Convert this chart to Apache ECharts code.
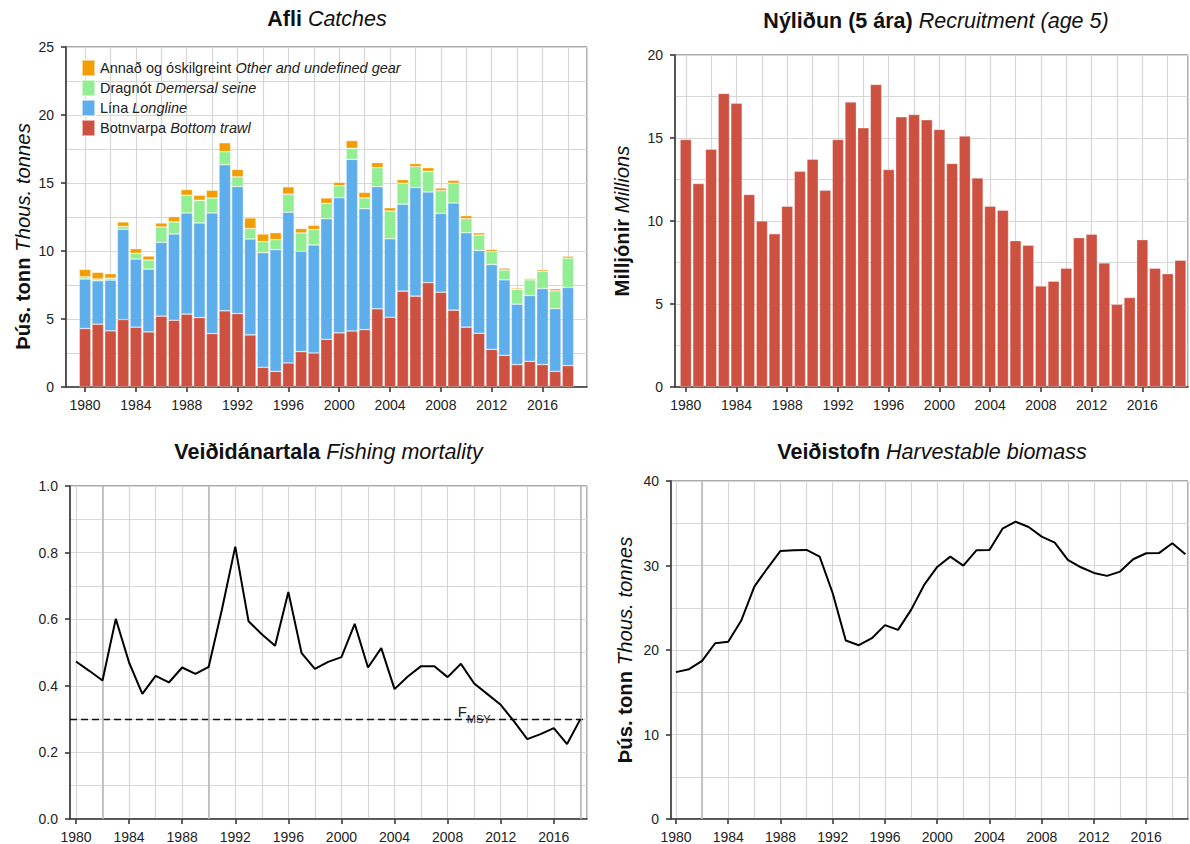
<!DOCTYPE html>
<html><head><meta charset="utf-8">
<script src="https://cdn.jsdelivr.net/npm/echarts@6/dist/echarts.min.js"></script>
<style>html,body{margin:0;padding:0;background:#fff}#c{width:1190px;height:844px}</style>
</head><body><div id="c"></div>
<script>
// ---------- DATA ----------
const catchYears = [1980,1981,1982,1983,1984,1985,1986,1987,1988,1989,1990,1991,1992,1993,1994,1995,1996,1997,1998,1999,2000,2001,2002,2003,2004,2005,2006,2007,2008,2009,2010,2011,2012,2013,2014,2015,2016,2017,2018];
const trawl    = [4.30,4.62,4.13,4.96,4.40,4.05,5.21,4.91,5.36,5.11,3.93,5.60,5.40,3.83,1.45,1.15,1.77,2.60,2.50,3.51,3.98,4.12,4.22,5.75,5.13,7.05,6.68,7.68,6.97,5.65,4.40,3.95,2.77,2.33,1.65,1.89,1.65,1.15,1.57];
const longline = [3.64,3.19,3.73,6.64,5.01,4.62,5.43,6.34,7.44,6.95,8.87,10.74,9.34,7.05,8.43,8.95,11.08,7.38,7.94,8.86,9.94,12.62,8.89,8.98,5.77,6.40,7.98,6.66,5.80,7.88,6.94,6.09,6.24,5.55,4.44,4.84,5.59,4.62,5.75];
const seine    = [0.16,0.13,0.14,0.20,0.42,0.67,1.13,0.89,1.30,1.67,1.10,0.96,0.71,0.77,0.81,0.73,1.33,1.35,1.13,1.13,0.88,0.81,0.79,1.40,2.04,1.53,1.54,1.52,1.67,1.45,1.03,1.13,0.96,0.72,1.08,1.15,1.26,1.30,2.16];
const otherGear= [0.55,0.49,0.33,0.34,0.34,0.29,0.29,0.39,0.42,0.37,0.57,0.66,0.55,0.78,0.56,0.52,0.54,0.32,0.32,0.40,0.25,0.57,0.41,0.37,0.24,0.27,0.23,0.27,0.19,0.22,0.23,0.17,0.15,0.14,0.10,0.10,0.12,0.15,0.14];

const recruitYears = [1980,1981,1982,1983,1984,1985,1986,1987,1988,1989,1990,1991,1992,1993,1994,1995,1996,1997,1998,1999,2000,2001,2002,2003,2004,2005,2006,2007,2008,2009,2010,2011,2012,2013,2014,2015,2016,2017,2018,2019];
const recruitment  = [14.91,12.26,14.33,17.69,17.09,11.60,10.01,9.23,10.89,13.00,13.73,11.86,14.91,17.17,15.62,18.23,13.10,16.28,16.42,16.10,15.52,13.47,15.12,12.60,10.89,10.65,8.82,8.54,6.09,6.37,7.16,9.00,9.21,7.48,4.98,5.39,8.88,7.16,6.83,7.64];

const fYears = [1980,1981,1982,1983,1984,1985,1986,1987,1988,1989,1990,1991,1992,1993,1994,1995,1996,1997,1998,1999,2000,2001,2002,2003,2004,2005,2006,2007,2008,2009,2010,2011,2012,2013,2014,2015,2016,2017,2018];
const fishingMortality = [0.473,0.445,0.416,0.601,0.470,0.376,0.430,0.410,0.455,0.436,0.457,0.630,0.818,0.594,0.555,0.520,0.682,0.498,0.451,0.472,0.486,0.586,0.455,0.513,0.390,0.428,0.459,0.459,0.426,0.466,0.407,0.375,0.343,0.293,0.240,0.255,0.273,0.225,0.300];
const fmsy = 0.3;
const fmsyLabelYear = 2010;

const biomassYears = [1980,1981,1982,1983,1984,1985,1986,1987,1988,1989,1990,1991,1992,1993,1994,1995,1996,1997,1998,1999,2000,2001,2002,2003,2004,2005,2006,2007,2008,2009,2010,2011,2012,2013,2014,2015,2016,2017,2018,2019];
const biomass = [17.38,17.73,18.72,20.80,20.97,23.49,27.50,29.67,31.72,31.80,31.84,31.05,26.72,21.12,20.57,21.40,22.94,22.38,24.75,27.70,29.83,31.05,29.99,31.80,31.84,34.36,35.19,34.56,33.42,32.71,30.66,29.79,29.12,28.77,29.28,30.74,31.45,31.49,32.63,31.33];

const gearNames = ['Annað og óskilgreint','Dragnót','Lína','Botnvarpa'];
const gearNamesEn = {'Annað og óskilgreint':'Other and undefined gear','Dragnót':'Demersal seine','Lína':'Longline','Botnvarpa':'Bottom trawl'};
const accentF = [1982,1990,2018];
const accentB = [1982];

// ---------- STYLE ----------
const FONT = '"Liberation Sans", Arial, Helvetica, sans-serif';
const GRID = '#d7d7d7';
const AX = '#3a3a3a';
const RED = '#cd5140', BLUE = '#5eaeec', GREEN = '#92ee92', ORANGE = '#f29e02';
const TFS = 21.5;   // title font size
const NFS = 20.3;   // axis-name font size

// category slots for the stacked catch bars (one empty slot of padding each side)
const catchSlots = [catchYears[0] - 1].concat(catchYears, [catchYears[catchYears.length - 1] + 1]).map(String);

function xAxes(g, min, max) {
  return [
    {type:'value', gridIndex:g, min:min, max:max, minInterval:4, maxInterval:4, splitNumber:10,
     axisLine:{show:true, onZero:false, lineStyle:{color:AX, width:1.6}},
     axisTick:{show:true, length:5, lineStyle:{color:AX, width:1.6}},
     axisLabel:{margin:11, fontSize:14, color:'#222', fontFamily:FONT, showMinLabel:false, showMaxLabel:false,
       formatter:function(v){ return Math.abs(v % 4) < 1e-6 ? String(v) : ''; }},
     splitLine:{show:false}},
    {type:'value', gridIndex:g, min:min, max:max, minInterval:2, maxInterval:2, splitNumber:20, position:'top',
     axisLine:{show:false}, axisTick:{show:false}, axisLabel:{show:false},
     splitLine:{show:true, lineStyle:{color:GRID, width:1.2}}}
  ];
}
function nameRich(){
  return {b:{fontWeight:'bold', fontSize:NFS, fontFamily:FONT, color:'#111', fill:'#111'},
          i:{fontStyle:'italic', fontSize:NFS, fontFamily:FONT, color:'#111', fill:'#111'}};
}
function yAxis(g, max, interval, name, gap, fmt) {
  return {type:'value', gridIndex:g, min:0, max:max, interval:interval,
    axisLine:{show:true, lineStyle:{color:AX, width:1.6}},
    axisTick:{show:true, length:5, lineStyle:{color:AX, width:1.6}},
    axisLabel:{margin:12, fontSize:14, color:'#222', fontFamily:FONT, formatter:fmt},
    splitLine:{show:true, lineStyle:{color:GRID, width:1.2}},
    minorTick:{show:false, splitNumber:2},
    minorSplitLine:{show:true, lineStyle:{color:GRID, width:1.2}},
    name:name, nameLocation:'middle', nameGap:gap, nameRotate:90,
    nameTextStyle:{fontSize:NFS, color:'#111', fontFamily:FONT, rich:nameRich()}};
}
const gridBase = {show:true, borderColor:'#555', borderWidth:1, backgroundColor:'transparent'};

function titleText(x, y, text) {
  return {type:'text', x:x, y:y, z:100,
    style:{text:text, align:'center', verticalAlign:'middle', fontSize:TFS, fontFamily:FONT, fill:'#111',
      rich:{b:{fontWeight:'bold', fontSize:TFS, fontFamily:FONT, fill:'#111'},
            i:{fontStyle:'italic', fontSize:TFS, fontFamily:FONT, fill:'#111'}}}};
}
function vertName(x, y, text) {
  return {type:'text', x:x, y:y, rotation:Math.PI / 2, z:100,
    style:{text:text, align:'center', verticalAlign:'middle', fontSize:NFS, fontFamily:FONT, fill:'#111', rich:nameRich()}};
}

const pairs = (xs, ys) => xs.map((x, i) => [x, ys[i]]);
const barStyle = c => ({color:c, borderColor:'rgba(255,255,255,0.55)', borderWidth:0.6});

const chart = echarts.init(document.getElementById('c'), null, {renderer:'svg'});
chart.setOption({
  animation:false,
  backgroundColor:'#fff',
  textStyle:{fontFamily:FONT},
  graphic:[
    titleText(327, 19, '{b|Afli} {i|Catches}'),
    titleText(936, 21, '{b|Nýliðun (5 ára)} {i|Recruitment (age 5)}'),
    titleText(328.5, 452, '{b|Veiðidánartala} {i|Fishing mortality}'),
    titleText(932, 452, '{b|Veiðistofn} {i|Harvestable biomass}'),
    vertName(22.5, 236.5, '{b|Þús. tonn} {i|Thous. tonnes}')
  ],
  legend:{
    left:81, top:59, padding:0, orient:'vertical', itemWidth:13, itemHeight:16, itemGap:2, icon:'rect',
    data:gearNames,
    formatter:function(n){ return '{n|' + n + '} {i|' + gearNamesEn[n] + '}'; },
    textStyle:{fontSize:14.5, color:'#222', fontFamily:FONT,
      rich:{n:{fontSize:14.5, fontFamily:FONT, color:'#222'}, i:{fontStyle:'italic', fontSize:14.5, fontFamily:FONT, color:'#222'}}}
  },
  grid:[
    Object.assign({left:66, top:47, width:521, height:340}, gridBase),
    Object.assign({left:675, top:55, width:513, height:332}, gridBase),
    Object.assign({left:70, top:486, width:517, height:333}, gridBase),
    Object.assign({left:671, top:481, width:517, height:338}, gridBase)
  ],
  xAxis:[].concat(
    xAxes(0, 1978.5, 2019.5),
    xAxes(1, 1979.15, 2019.6),
    xAxes(2, 1979.55, 2018.5),
    xAxes(3, 1979.62, 2019.2),
    [{type:'category', gridIndex:0, data:catchSlots, boundaryGap:true, show:false, position:'bottom'}]
  ),
  yAxis:[
    yAxis(0, 25, 5, '', 33, v => String(v)),
    yAxis(1, 20, 5, '{b|Milljónir} {i|Millions}', 43, v => String(v)),
    yAxis(2, 1.0, 0.2, '', 30, v => v.toFixed(1)),
    yAxis(3, 40, 10, '{b|Þús. tonn} {i|Thous. tonnes}', 36, v => String(v))
  ],
  series:[
    {type:'bar', name:'Botnvarpa', xAxisIndex:8, yAxisIndex:0, stack:'catch', barWidth:11.6, data:pairs(catchYears.map(String), trawl), itemStyle:barStyle(RED)},
    {type:'bar', name:'Lína', xAxisIndex:8, yAxisIndex:0, stack:'catch', barWidth:11.6, data:pairs(catchYears.map(String), longline), itemStyle:barStyle(BLUE)},
    {type:'bar', name:'Dragnót', xAxisIndex:8, yAxisIndex:0, stack:'catch', barWidth:11.6, data:pairs(catchYears.map(String), seine), itemStyle:barStyle(GREEN)},
    {type:'bar', name:'Annað og óskilgreint', xAxisIndex:8, yAxisIndex:0, stack:'catch', barWidth:11.6, data:pairs(catchYears.map(String), otherGear), itemStyle:barStyle(ORANGE)},
    {type:'bar', name:'Nýliðun', xAxisIndex:2, yAxisIndex:1, barWidth:11.4, data:pairs(recruitYears, recruitment), itemStyle:barStyle(RED)},
    {type:'line', name:'F', xAxisIndex:4, yAxisIndex:2, symbol:'none', data:pairs(fYears, fishingMortality),
     lineStyle:{color:'#000', width:2}, z:5,
     markLine:{silent:true, symbol:'none', label:{show:false}, animation:false,
       data:[{yAxis:fmsy, lineStyle:{type:[7,4], color:'#111', width:1.4}}].concat(
         accentF.map(y => ({xAxis:y, lineStyle:{type:'solid', color:'#b9b9b9', width:1.6}})))},
     markPoint:{silent:true, symbol:'circle', symbolSize:0, animation:false,
       data:[{coord:[fmsyLabelYear, fmsy]}],
       label:{show:true, position:'inside', offset:[0,-5], formatter:'{f|F}{s|MSY}',
         rich:{f:{fontSize:15, fontFamily:FONT, color:'#222', lineHeight:20, verticalAlign:'top'},
               s:{fontSize:11, fontFamily:FONT, color:'#222', lineHeight:20, verticalAlign:'bottom'}}}}},
    {type:'line', name:'Veiðistofn', xAxisIndex:6, yAxisIndex:3, symbol:'none', data:pairs(biomassYears, biomass),
     lineStyle:{color:'#000', width:2}, z:5,
     markLine:{silent:true, symbol:'none', label:{show:false}, animation:false,
       data:accentB.map(y => ({xAxis:y, lineStyle:{type:'solid', color:'#b9b9b9', width:1.6}}))}}
  ]
});
</script>
</body></html>
